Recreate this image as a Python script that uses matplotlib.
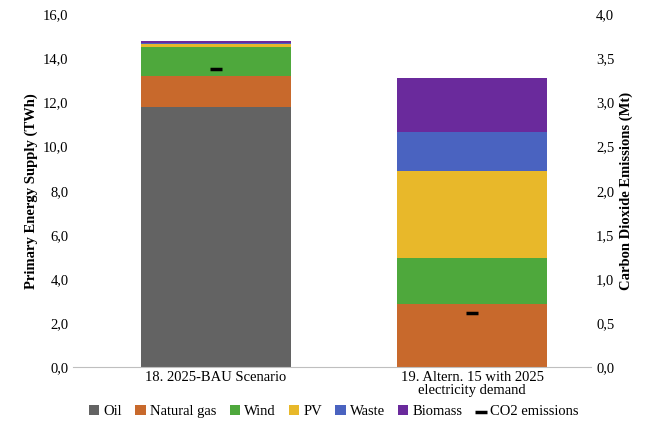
import numpy as np
import matplotlib.pyplot as plt

plt.rcParams['font.family'] = ['Liberation Serif', 'DejaVu Serif']

scenarios = ['18. 2025-BAU Scenario', '19. Altern. 15 with 2025\nelectricity demand']
series = ['Oil', 'Natural gas', 'Wind', 'PV', 'Waste', 'Biomass']
oil = [11.8, 0.0]
natural_gas = [1.4, 2.85]
wind = [1.3, 2.1]
pv = [0.15, 3.95]
waste = [0.05, 1.75]
biomass = [0.1, 2.45]
co2 = [3.38, 0.61]
colors = ['#636363', '#c8692c', '#4ea83c', '#e8b82a', '#4a63c0', '#6a2a9c']

fig = plt.figure(figsize=(6.68, 4.21), dpi=100)
ax = fig.add_axes([0.11, 0.128, 0.775, 0.838])
x = np.arange(len(scenarios))
bottom = np.zeros(len(scenarios))
for name, vals, c in zip(series, [oil, natural_gas, wind, pv, waste, biomass], colors):
    ax.bar(x, vals, width=0.585, bottom=bottom, color=c, label=name)
    bottom += np.array(vals)

ax.set_xlim(-0.555, 1.465)
ax.set_ylim(0, 16)
ax.set_yticks(np.arange(0, 16.1, 2))
ax.set_yticklabels([f'{v:.1f}'.replace('.', ',') for v in np.arange(0, 16.1, 2)])
ax.set_xticks(x)
ax.set_xticklabels(scenarios, fontsize=10.5, linespacing=1.0)
ax.set_ylabel('Primary Energy Supply (TWh)', fontweight='bold', fontsize=10.5)
ax.tick_params(axis='y', labelsize=10.5, length=0)
ax.tick_params(axis='x', length=0, pad=3)
for s in ['top', 'right', 'left']:
    ax.spines[s].set_visible(False)
ax.spines['bottom'].set_color('#bfbfbf')

ax2 = ax.twinx()
ax2.set_ylim(0, 4)
ax2.set_yticks(np.arange(0, 4.01, 0.5))
ax2.set_yticklabels([f'{v:.1f}'.replace('.', ',') for v in np.arange(0, 4.01, 0.5)])
ax2.scatter(x, co2, marker='_', s=70, linewidths=2.5, color='black', label='CO2 emissions', zorder=5)
ax2.set_ylabel('Carbon Dioxide Emissions (Mt)', fontweight='bold', fontsize=10.5)
ax2.tick_params(axis='y', labelsize=10.5, length=0)
for s in ['top', 'right', 'left', 'bottom']:
    ax2.spines[s].set_visible(False)

h1, l1 = ax.get_legend_handles_labels()
h2, l2 = ax2.get_legend_handles_labels()
fig.legend(h1 + h2, l1 + l2, loc='lower center', ncol=7, frameon=False, fontsize=10.5,
           bbox_to_anchor=(0.5, -0.025), handlelength=0.7, handletextpad=0.3, columnspacing=0.9)

fig.savefig('out.png', dpi=100)
